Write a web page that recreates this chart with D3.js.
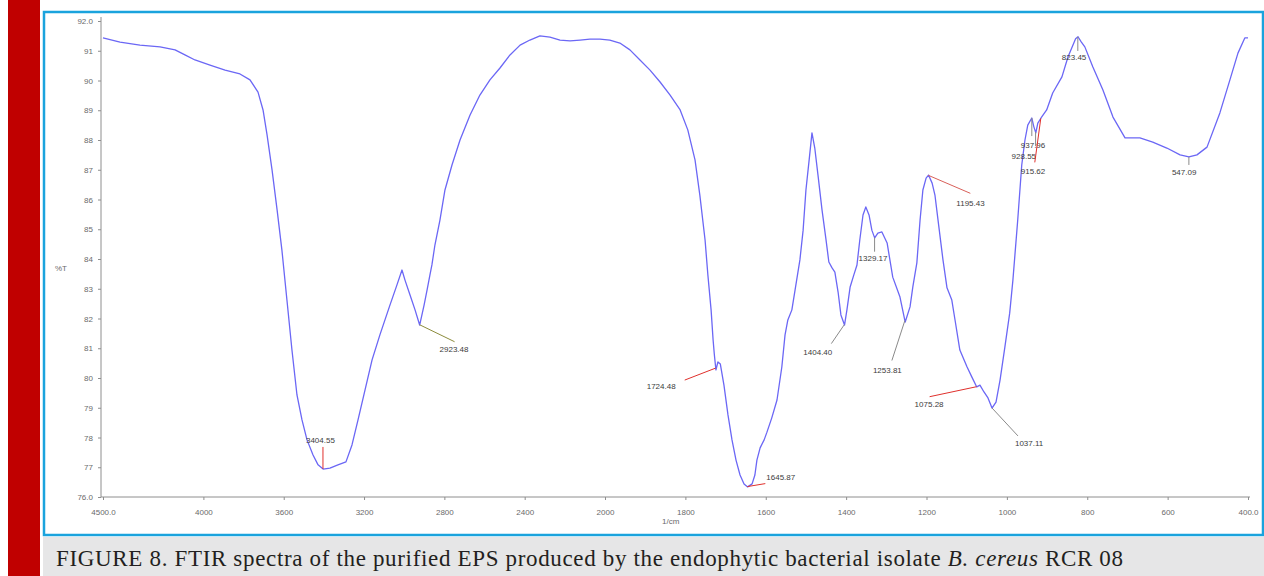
<!DOCTYPE html>
<html>
<head>
<meta charset="utf-8">
<script src="https://cdn.jsdelivr.net/npm/d3@7/dist/d3.min.js"></script>
<style>
  html, body { margin: 0; padding: 0; background: #ffffff; }
  svg { display: block; }
</style>
</head>
<body>
<svg id="fig" width="1264" height="576"></svg>
<script>
// FTIR spectrum (wavenumber in 1/cm, transmittance in %T)
const wavenumber = [
  4500, 4415, 4316, 4216, 4141, 4092, 4042, 3967, 3892, 3818, 3768, 3728, 3703, 3683, 3658, 3633,
  3609, 3584, 3559, 3534, 3509, 3484, 3454, 3429, 3404, 3370, 3330, 3290, 3260, 3230, 3195, 3160,
  3121, 3071, 3036, 3011, 2996, 2971, 2946, 2923, 2901, 2886, 2872, 2862, 2847, 2822, 2797, 2762,
  2722, 2672, 2623, 2573, 2523, 2473, 2423, 2374, 2324, 2274, 2224, 2174, 2124, 2075, 2025,
  1988, 1963, 1938, 1913, 1888, 1863, 1838, 1813, 1794, 1776, 1764, 1751, 1744, 1736, 1731, 1728,
  1724, 1719, 1713, 1704, 1694, 1684, 1674, 1664, 1654, 1645, 1634, 1627, 1622, 1614, 1604, 1597,
  1585, 1572, 1560, 1552, 1545, 1535, 1527, 1515, 1507, 1500, 1492, 1485, 1478, 1470, 1460, 1450,
  1443, 1435, 1428, 1420, 1413, 1404, 1398, 1390, 1381, 1373, 1366, 1358, 1351, 1343, 1336, 1329,
  1321, 1311, 1298, 1284, 1266, 1253, 1241, 1234, 1224, 1216, 1209, 1201, 1195, 1186, 1179, 1172,
  1159, 1149, 1137, 1129, 1117, 1099, 1087, 1075, 1067, 1057, 1047, 1037, 1027, 1017, 1005, 993,
  985, 973, 963, 955, 948, 938, 933, 928, 923, 915, 901, 886, 863, 848, 829, 823, 815, 806,
  786, 761, 736, 706, 669, 637, 602, 569, 547, 527, 502, 470, 445, 425, 408, 400
];
const transmittance = [
  91.43, 91.29, 91.19, 91.13, 91.03, 90.86, 90.69, 90.52, 90.35, 90.22, 90.02, 89.61, 89.01, 88.17, 86.99, 85.65,
  84.30, 82.62, 80.94, 79.43, 78.59, 77.92, 77.41, 77.08, 76.94, 76.97, 77.08, 77.18, 77.75, 78.59, 79.60, 80.61,
  81.45, 82.45, 83.13, 83.63, 83.29, 82.79, 82.29, 81.78, 82.45, 82.96, 83.46, 83.80, 84.47, 85.31, 86.32, 87.16,
  88.00, 88.84, 89.51, 90.02, 90.42, 90.86, 91.19, 91.36, 91.50, 91.46, 91.36, 91.33, 91.36, 91.39, 91.39,
  91.36, 91.26, 91.03, 90.69, 90.35, 89.95, 89.51, 89.01, 88.34, 87.33, 86.15, 84.64, 83.46, 82.29, 81.28, 80.80,
  80.27, 80.54, 80.47, 79.76, 78.76, 77.92, 77.24, 76.74, 76.44, 76.34, 76.44, 76.74, 77.24, 77.65, 77.92, 78.18,
  78.66, 79.26, 80.37, 81.45, 81.95, 82.29, 82.96, 83.97, 84.97, 86.32, 87.33, 88.24, 87.73, 86.82, 85.65, 84.64,
  83.90, 83.70, 83.56, 82.89, 82.12, 81.78, 82.29, 83.06, 83.46, 83.80, 84.64, 85.48, 85.75, 85.48, 84.97, 84.71,
  84.87, 84.91, 84.54, 83.39, 82.72, 81.88, 82.39, 83.06, 83.87, 85.31, 86.32, 86.72, 86.82, 86.55, 86.15, 85.38,
  83.97, 83.03, 82.62, 81.95, 80.94, 80.37, 80.03, 79.70, 79.76, 79.53, 79.33, 78.99, 79.19, 79.93, 81.04, 82.18,
  83.29, 85.31, 87.16, 88.00, 88.50, 88.74, 88.45, 88.24, 88.57, 88.74, 89.01, 89.58, 90.12, 90.79, 91.40, 91.47, 91.30, 91.13,
  90.45, 89.68, 88.77, 88.07, 88.07, 87.93, 87.73, 87.50, 87.43, 87.50, 87.76, 88.91, 90.02, 90.92, 91.43, 91.43
];

// Peak picks printed on the spectrum
const peakWavenumbers = [3404.55, 2923.48, 1724.48, 1645.87, 1404.40, 1329.17, 1253.81, 1195.43,
                         1075.28, 1037.11, 937.96, 928.55, 915.62, 823.45, 547.09];
const peakLabels = peakWavenumbers.map(v => v.toFixed(2));

// Axis ticks
const xTickValues = [4500, 4000, 3600, 3200, 2800, 2400, 2000, 1800, 1600, 1400, 1200, 1000, 800, 600, 400];
const xTickLabels = ["4500.0", "4000", "3600", "3200", "2800", "2400", "2000", "1800", "1600", "1400",
                     "1200", "1000", "800", "600", "400.0"];
const yTickValues = [92, 91, 90, 89, 88, 87, 86, 85, 84, 83, 82, 81, 80, 79, 78, 77, 76];
const yTickLabels = ["92.0", "91", "90", "89", "88", "87", "86", "85", "84", "83", "82", "81", "80",
                     "79", "78", "77", "76.0"];

const caption = "FIGURE 8. FTIR spectra of the purified EPS produced by the endophytic bacterial isolate ";
const captionSpecies = "B. cereus";
const captionStrain = " RCR 08";

// Leader-line and label placement for each peak pick (pixels, relative to the pick point)
const pickLayout = [
  { lx: 0,   ly: -22, tx: -17, ty: -26, c: "#e0302c" },
  { lx: 35,  ly: 17,  tx: 20,  ty: 27,  c: "#8c8c3c" },
  { lx: -31, ly: 12,  tx: -69, ty: 21,  c: "#e0302c" },
  { lx: 18,  ly: -3,  tx: 19,  ty: -7,  c: "#e0302c" },
  { lx: -13, ly: 19,  tx: -41, ty: 30,  c: "#8a8a8a" },
  { lx: 0,   ly: 14,  tx: -16, ty: 23,  c: "#8a8a8a" },
  { lx: -13, ly: 40,  tx: -32, ty: 52,  c: "#8a8a8a" },
  { lx: 42,  ly: 18,  tx: 28,  ty: 31,  c: "#d9605a" },
  { lx: -47, ly: 10,  tx: -62, ty: 20,  c: "#e0302c" },
  { lx: 26,  ly: 28,  tx: 23,  ty: 38,  c: "#8a8a8a" },
  { lx: 0,   ly: 18,  tx: -11, ty: 30,  c: "#8a8a8a" },
  { lx: 0,   ly: 14,  tx: -24, ty: 27,  c: "#8a8a8a" },
  { lx: -6,  ly: 44,  tx: -20, ty: 56,  c: "#e0302c" },
  { lx: 0,   ly: 14,  tx: -16, ty: 23,  c: "#8a8a8a" },
  { lx: 0,   ly: 8,   tx: -17, ty: 18,  c: "#8a8a8a" }
];

const svg = d3.select("#fig");

// Page furniture: red side band, framed panel, caption strip
svg.append("rect").attr("x", 0).attr("y", 0).attr("width", 1264).attr("height", 576).attr("fill", "#ffffff");
svg.append("rect").attr("x", 8).attr("y", 0).attr("width", 32).attr("height", 576).attr("fill", "#c00000");
svg.append("rect").attr("x", 43).attr("y", 537).attr("width", 1221).attr("height", 39).attr("fill", "#e6e6e7");
svg.append("rect").attr("x", 44).attr("y", 12).attr("width", 1219).attr("height", 523)
  .attr("fill", "#ffffff").attr("stroke", "#1aa3dd").attr("stroke-width", 2.5);

// Scales: the region below 2000 1/cm is drawn at twice the scale
const x = d3.scaleLinear().domain([4500, 2000, 400]).range([103, 605, 1248]);
const y = d3.scaleLinear().domain([76, 92]).range([497, 21]);

const axisColor = "#8e8e8e";
const tickFont = "Liberation Sans, Arial, sans-serif";

// Y axis
const yAxis = d3.axisLeft(y).tickValues(yTickValues).tickSize(3).tickPadding(5)
  .tickFormat((d, i) => yTickLabels[i]);
const gy = svg.append("g").attr("transform", "translate(101,0)").call(yAxis);
gy.select(".domain").attr("stroke", axisColor).attr("d", "M0,17V497");
gy.selectAll(".tick line").attr("stroke", axisColor);
gy.selectAll(".tick text").attr("fill", "#6a6a6a").style("font-family", tickFont).style("font-size", "8px");

// X axis
const xAxis = d3.axisBottom(x).tickValues(xTickValues).tickSize(3).tickPadding(9)
  .tickFormat((d, i) => xTickLabels[i]);
const gx = svg.append("g").attr("transform", "translate(0,497)").call(xAxis);
gx.select(".domain").attr("stroke", axisColor).attr("d", "M101,0H1250");
gx.selectAll(".tick line").attr("stroke", axisColor);
gx.selectAll(".tick text").attr("fill", "#6a6a6a").style("font-family", tickFont).style("font-size", "8px");

// Axis titles
svg.append("text").attr("x", 55).attr("y", 271).text("%T")
  .attr("fill", "#6a6a6a").style("font-family", tickFont).style("font-size", "8px");
svg.append("text").attr("x", 662).attr("y", 524).text("1/cm")
  .attr("fill", "#6a6a6a").style("font-family", tickFont).style("font-size", "8px");

// Spectrum trace
const spectrum = wavenumber.map((w, i) => [w, transmittance[i]]);
const line = d3.line().x(d => x(d[0])).y(d => y(d[1]));
svg.append("path").datum(spectrum).attr("d", line)
  .attr("fill", "none").attr("stroke", "#6b67f5").attr("stroke-width", 1.3).attr("stroke-linejoin", "round");

// Transmittance on the trace at a given wavenumber
function traceAt(w) {
  for (let i = 0; i < spectrum.length - 1; i++) {
    const a = spectrum[i], b = spectrum[i + 1];
    if (w <= a[0] && w >= b[0]) {
      const t = (a[0] - w) / (a[0] - b[0]);
      return a[1] + t * (b[1] - a[1]);
    }
  }
  return spectrum[spectrum.length - 1][1];
}

// Peak picks with leader lines
const picks = svg.append("g");
peakWavenumbers.forEach((w, i) => {
  const px = x(w), py = y(traceAt(w));
  const L = pickLayout[i];
  picks.append("line").attr("x1", px).attr("y1", py).attr("x2", px + L.lx).attr("y2", py + L.ly)
    .attr("stroke", L.c).attr("stroke-width", 1);
  picks.append("text").attr("x", px + L.tx).attr("y", py + L.ty).text(peakLabels[i])
    .attr("fill", "#3c3c3c").style("font-family", tickFont).style("font-size", "8px");
});

// Caption
const cap = svg.append("text").attr("x", 56).attr("y", 566)
  .attr("textLength", 1067).attr("lengthAdjust", "spacing")
  .attr("fill", "#231f20").style("font-family", "Liberation Serif, 'Times New Roman', serif").style("font-size", "23px");
cap.append("tspan").text(caption);
cap.append("tspan").style("font-style", "italic").text(captionSpecies);
cap.append("tspan").text(captionStrain);
</script>
</body>
</html>
